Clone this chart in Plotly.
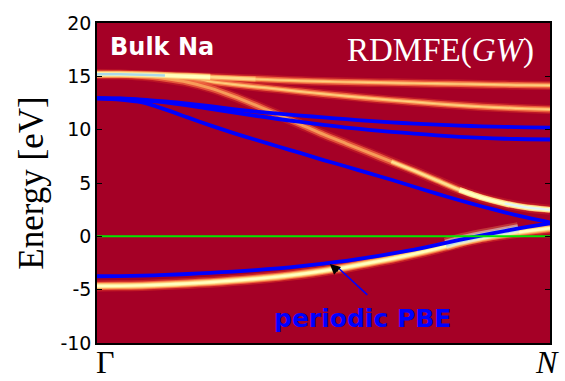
import plotly.graph_objects as go

# Momentum path Gamma -> N (fractional)
k = [0.0, 0.05, 0.1, 0.15, 0.2, 0.25, 0.3, 0.35, 0.4, 0.45, 0.5,
     0.55, 0.6, 0.65, 0.7, 0.75, 0.8, 0.85, 0.9, 0.95, 1.0]

# RDMFE(GW) spectral-function peaks (eV)
rdmfe_a = [15.2, 15.19, 15.15, 15.08, 15.0, 14.92, 14.83, 14.74, 14.65, 14.58, 14.52,
           14.47, 14.43, 14.39, 14.35, 14.31, 14.28, 14.24, 14.2, 14.17, 14.15]
rdmfe_b = [15.2, 15.18, 15.1, 14.95, 14.75, 14.5, 14.25, 14.02, 13.8, 13.57, 13.35,
           13.15, 12.95, 12.77, 12.6, 12.43, 12.28, 12.15, 12.05, 11.96, 11.9]
rdmfe_c = [15.2, 15.17, 15.05, 14.8, 14.45, 13.9, 13.15, 12.3, 11.4, 10.48, 9.55,
           8.7, 7.85, 7.0, 6.15, 5.25, 4.35, 3.62, 3.08, 2.7, 2.49]
rdmfe_d = [-4.65, -4.64, -4.6, -4.52, -4.42, -4.3, -4.15, -3.98, -3.78, -3.53, -3.24,
           -2.9, -2.5, -2.1, -1.65, -1.15, -0.62, -0.15, 0.2, 0.5, 0.76]

# Broadened weight where the occupied band crosses the Fermi level
smear_k = [0.77, 0.8, 0.85, 0.9, 0.93]
smear_e = [-0.75, -0.38, 0.08, 0.48, 0.72]

# Periodic PBE bands (eV)
pbe_1 = [-3.74, -3.73, -3.69, -3.62, -3.53, -3.42, -3.3, -3.16, -3.0, -2.8, -2.56,
         -2.29, -1.98, -1.63, -1.25, -0.8, -0.33, 0.1, 0.5, 0.88, 1.22]
pbe_2 = [12.92, 12.82, 12.55, 11.9, 11.15, 10.4, 9.7, 9.05, 8.42, 7.8, 7.15,
         6.55, 5.92, 5.3, 4.65, 4.0, 3.38, 2.8, 2.25, 1.75, 1.3]
pbe_3 = [12.95, 12.92, 12.82, 12.65, 12.45, 12.2, 11.93, 11.7, 11.5, 11.32, 11.15,
         10.98, 10.82, 10.68, 10.57, 10.47, 10.38, 10.31, 10.26, 10.22, 10.2]
pbe_4 = [12.95, 12.9, 12.77, 12.55, 12.27, 11.95, 11.62, 11.3, 11.0, 10.72, 10.45,
         10.2, 9.98, 9.8, 9.63, 9.47, 9.33, 9.23, 9.15, 9.1, 9.08]

fermi = 0.0
y_ticks = [-10, -5, 0, 5, 10, 15, 20]

fig = go.Figure()


def glow(xs, ys, layers):
    for width, color, alpha in layers:
        fig.add_trace(go.Scatter(
            x=xs, y=ys, mode="lines",
            line=dict(color=color, width=width, shape="spline", smoothing=0.6),
            opacity=alpha, hoverinfo="skip", showlegend=False))


soft = [(9, "#d73027", 0.5), (6, "#f46d43", 0.85), (3.2, "#fdae61", 1.0), (1.2, "#fee090", 0.7)]
bright = [(11, "#d73027", 0.6), (8, "#f46d43", 0.9), (6, "#fdae61", 1.0),
          (4.2, "#fee090", 1.0), (2.4, "#ffffbf", 1.0)]

# upper unoccupied RDMFE bands
glow(k, rdmfe_a, soft)
glow(k, rdmfe_b, soft)
glow(k, rdmfe_c, [(10, "#d73027", 0.4), (6.5, "#f46d43", 0.7), (3, "#fdae61", 0.8)])

# degenerate region at Gamma: brightest weight, fading along the path
glow(k[:8], rdmfe_a[:8], [(5, "#fdae61", 0.8), (2.6, "#fee090", 0.9)])
glow(k[:6], rdmfe_a[:6], [(7, "#fdae61", 0.9), (5, "#fee090", 1.0), (3.2, "#ffffbf", 1.0)])
glow(k[:4], rdmfe_a[:4], [(2.6, "#abd9e9", 1.0)])

# steep band brightening towards N
glow(k[13:], rdmfe_c[13:], [(4.5, "#fdae61", 0.9), (2.4, "#fee090", 1.0)])
glow(k[16:], rdmfe_c[16:], [(5.5, "#fee090", 1.0), (3.2, "#ffffbf", 1.0)])
glow(k[18:], rdmfe_c[18:], [(2.2, "#e0f3f8", 1.0)])

# occupied band
glow(k, rdmfe_d, bright)
glow(smear_k, smear_e, [(13, "#fdae61", 0.3), (9, "#e0f3f8", 0.5), (5, "#abd9e9", 0.8)])

# periodic PBE bands
for band in (pbe_1, pbe_2, pbe_3, pbe_4):
    fig.add_trace(go.Scatter(
        x=k, y=band, mode="lines",
        line=dict(color="#0000ff", width=3.8, shape="spline", smoothing=0.6),
        hoverinfo="skip", showlegend=False))

# Fermi level
fig.add_trace(go.Scatter(
    x=[k[0], k[-1]], y=[fermi, fermi], mode="lines",
    line=dict(color="#00e600", width=2), hoverinfo="skip", showlegend=False))

serif = "Liberation Serif, Times New Roman, serif"
sans = "DejaVu Sans, sans-serif"

annotations = [
    dict(x=0.025, y=0.925, xref="paper", yref="paper", text="<b>Bulk Na</b>",
         showarrow=False, xanchor="left", yanchor="middle",
         font=dict(family=sans, size=24, color="white")),
    dict(x=0.968, y=0.915, xref="paper", yref="paper", text="RDMFE(<i>GW</i>)",
         showarrow=False, xanchor="right", yanchor="middle",
         font=dict(family=serif, size=33, color="white")),
    dict(x=0.585, y=-7.7, xref="x", yref="y", text="<b>periodic PBE</b>",
         showarrow=False, xanchor="center", yanchor="middle",
         font=dict(family=sans, size=25, color="#0000ff")),
    # arrow shaft (blue) and head (black)
    dict(x=0.53, y=-2.85, ax=0.6, ay=-5.62, xref="x", yref="y", axref="x", ayref="y",
         text="", showarrow=True, arrowhead=0, arrowwidth=1.6, arrowcolor="#0000ff"),
    dict(x=0.514, y=-2.59, ax=0.535, ay=-3.4, xref="x", yref="y", axref="x", ayref="y",
         text="", showarrow=True, arrowhead=2, arrowsize=1.3, arrowwidth=1.6,
         arrowcolor="black"),
    dict(x=0.0, y=0, xref="x", yref="paper", text="Γ", showarrow=False,
         xanchor="center", yanchor="top", xshift=8, yshift=1,
         font=dict(family=serif, size=32, color="black")),
    dict(x=1.0, y=0, xref="x", yref="paper", text="<i>N</i>", showarrow=False,
         xanchor="center", yanchor="top", xshift=-3, yshift=1,
         font=dict(family=serif, size=32, color="black")),
]

fig.update_layout(
    width=565, height=381,
    margin=dict(l=97, r=15, t=14, b=38),
    paper_bgcolor="white",
    plot_bgcolor="#a50026",
    showlegend=False,
    annotations=annotations,
    xaxis=dict(range=[0, 1], showticklabels=False, ticks="", showgrid=False,
               zeroline=False, showline=True, linecolor="black", linewidth=1.5,
               mirror=True),
    yaxis=dict(range=[-10, 20], tickvals=y_ticks,
               ticktext=[str(v) for v in y_ticks],
               ticks="inside", ticklen=5, tickwidth=1, tickcolor="black",
               showgrid=False, zeroline=False, showline=True, linecolor="black",
               linewidth=1.5, mirror="allticks",
               tickfont=dict(family=sans, size=19, color="black"),
               title=dict(text="Energy [eV]", font=dict(family=serif, size=35, color="black"),
                          standoff=6)),
)

fig.write_html("out.html")
